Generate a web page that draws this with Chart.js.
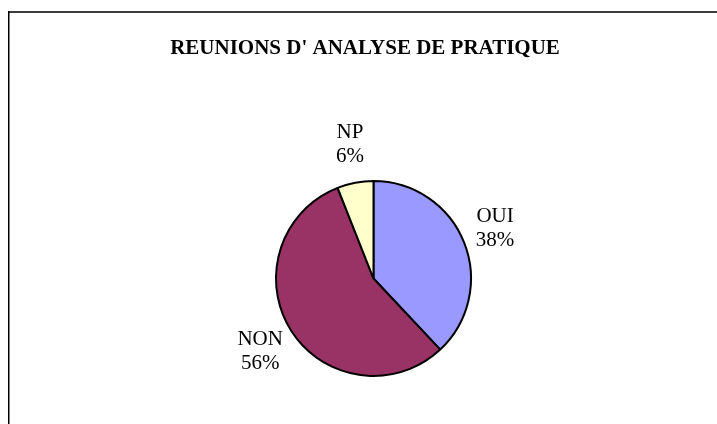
<!DOCTYPE html>
<html>
<head>
<meta charset="utf-8">
<script src="https://cdn.jsdelivr.net/npm/chart.js@4"></script>
<style>
    html, body { margin: 0; padding: 0; background: #fff; }
    canvas { display: block; }
</style>
</head>
<body>
<canvas id="reunionsChart" width="717" height="424"></canvas>
<script>
// Données du graphique
const categories = ['OUI', 'NON', 'NP'];
const valeurs = [38, 56, 6];
const couleurs = ['#9999FF', '#993366', '#FFFFCC'];
const titre = "REUNIONS D' ANALYSE DE PRATIQUE";

const policeSerif = '"Liberation Serif", "Times New Roman", serif';

// Cadre autour du graphique (bords gauche et haut visibles) + titre
const cadrePlugin = {
    id: 'cadre',
    beforeDraw(chart) {
        const ctx = chart.ctx;
        ctx.save();
        ctx.fillStyle = '#fff';
        ctx.fillRect(0, 0, chart.width, chart.height);
        ctx.fillStyle = '#3c3c3c';
        ctx.fillRect(8, 11, chart.width - 8, 2);
        ctx.fillStyle = '#000';
        ctx.fillRect(8, 11, 1.5, chart.height - 11);
        ctx.restore();
    },
    afterDraw(chart) {
        // titre dessiné ici : le titre du plugin Chart.js serait comprimé par le padding latéral
        const ctx = chart.ctx;
        ctx.save();
        ctx.font = 'bold 21px ' + policeSerif;
        ctx.fillStyle = '#000';
        ctx.textAlign = 'center';
        ctx.textBaseline = 'alphabetic';
        ctx.fillText(titre, 365, 54);
        ctx.restore();
    }
};

// Étiquettes "nom + pourcentage" à l'extérieur des parts
const etiquettesPlugin = {
    id: 'etiquettes',
    afterDatasetsDraw(chart) {
        const ctx = chart.ctx;
        const meta = chart.getDatasetMeta(0);
        const total = valeurs.reduce((a, b) => a + b, 0);
        const ecart = 13;
        const interligne = 24;
        ctx.save();
        ctx.font = '21px ' + policeSerif;
        ctx.fillStyle = '#000';
        ctx.textAlign = 'center';
        ctx.textBaseline = 'middle';
        meta.data.forEach((arc, i) => {
            const p = arc.getProps(['x', 'y', 'startAngle', 'endAngle', 'outerRadius'], true);
            const milieu = (p.startAngle + p.endAngle) / 2;
            const cos = Math.cos(milieu);
            const sin = Math.sin(milieu);
            const ligne1 = categories[i];
            const ligne2 = Math.round(valeurs[i] / total * 100) + '%';
            const w = Math.max(ctx.measureText(ligne1).width, ctx.measureText(ligne2).width);
            const h = 50;
            const r = p.outerRadius + 1 + ecart;
            const cx = p.x + cos * r + cos * w / 2;
            const cy = p.y + sin * r + sin * h / 2;
            ctx.fillText(ligne1, cx, cy - interligne / 2);
            ctx.fillText(ligne2, cx, cy + interligne / 2);
        });
        ctx.restore();
    }
};

const ctx = document.getElementById('reunionsChart').getContext('2d');
new Chart(ctx, {
    type: 'pie',
    data: {
        labels: categories,
        datasets: [{
            data: valeurs,
            backgroundColor: couleurs,
            borderColor: '#000',
            borderWidth: 2
        }]
    },
    options: {
        responsive: false,
        animation: false,
        layout: {
            padding: { left: 200, right: 170, top: 180, bottom: 47 }
        },
        plugins: {
            legend: { display: false },
            tooltip: { enabled: false },
            title: { display: false }
        }
    },
    plugins: [cadrePlugin, etiquettesPlugin]
});
</script>
</body>
</html>
